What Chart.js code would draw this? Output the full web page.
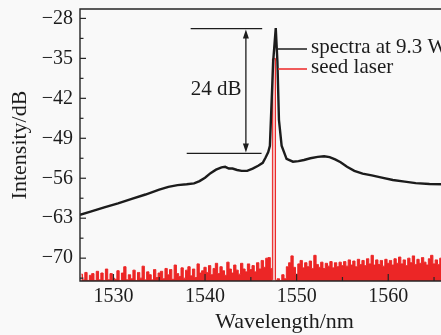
<!DOCTYPE html>
<html><head><meta charset="utf-8">
<script src="https://cdn.jsdelivr.net/npm/chart.js@4/dist/chart.umd.min.js"></script>
<style>
html,body{margin:0;padding:0;background:#f9f9f9;overflow:hidden}
#wrap{width:441px;height:335px;overflow:hidden;position:relative}
canvas{display:block}
</style></head><body>
<div id="wrap"><canvas id="c" width="500" height="335"></canvas></div>
<script>
// ---- data ----
const xTicks = [1530, 1540, 1550, 1560, 1570];
const xMinorTicks = [1535, 1545, 1555, 1565];
const yTicks = [-70, -63, -56, -49, -42, -35, -28];
const yMinorTicks = [-73.5, -66.5, -59.5, -52.5, -45.5, -38.5, -31.5];
const seriesLabels = ['spectra at 9.3 W', 'seed laser'];

const spectraWavelength = [1526.35,1527.5,1529.0,1530.5,1532.0,1533.5,1535.0,1536.0,1537.0,1538.0,1538.8,1539.4,1540.0,1540.6,1541.2,1541.8,1542.2,1542.6,1543.0,1543.5,1544.0,1544.6,1545.2,1545.8,1546.3,1546.6,1546.9,1547.08,1547.19,1547.44,1547.72,1547.9,1548.07,1548.36,1548.9,1549.6,1550.2,1550.8,1551.5,1552.3,1553.0,1553.6,1554.2,1554.8,1555.5,1556.3,1557.2,1558.2,1559.3,1560.5,1561.8,1563.0,1564.5,1566.0,1568.0,1571.0];
const spectraIntensity = [-62.4,-61.85,-61.1,-60.4,-59.6,-58.85,-58.0,-57.5,-57.2,-57.05,-56.9,-56.5,-55.9,-55.1,-54.5,-54.1,-54.0,-54.3,-54.3,-54.55,-54.7,-54.7,-54.3,-53.8,-53.3,-52.4,-51.4,-50.3,-45.8,-35.5,-29.7,-35.5,-45.8,-50.3,-52.6,-53.1,-53.0,-52.8,-52.5,-52.25,-52.15,-52.3,-52.7,-53.2,-54.0,-54.7,-55.2,-55.5,-55.9,-56.3,-56.6,-56.85,-57.0,-57.05,-57.15,-57.25];

const seedStart = 1526.5, seedStep = 0.25;
const seedIntensity = [
 -72.8,-73.8,-72.5,-73.9,-73.0,-72.7,-73.9,-72.3,-73.8,-72.6,-73.9,-71.9,-73.8,-72.7,-73.5,
 -73.7,-72.2,-73.9,-72.6,-71.5,-73.8,-72.9,-73.6,-72.1,-73.9,-72.5,-73.5,-71.4,-73.8,-72.4,-72.9,-73.8,-72.0,-73.4,-72.6,
 -72.3,-73.6,-71.8,-72.9,-72.0,-73.7,-71.2,-72.7,-73.2,-71.7,-73.5,-72.1,-71.5,-73.1,-71.9,-73.4,-71.0,-72.6,-72.2,-71.6,
 -72.5,-71.3,-72.9,-71.8,-70.9,-72.7,-71.5,-72.2,-73.0,-70.7,-71.9,-72.6,-71.2,-72.1,-72.8,-70.9,-71.9,-72.4,-71.0,-72.0,
 -71.3,-72.4,-70.8,-71.9,-70.4,-71.6,-70.0,-69.9,-71.8,
 -35.05,
 -73.9,-73.6,-73.9,-72.9,-73.6,-71.5,
 -70.8,-69.6,-71.6,-72.8,
 -71.0,-70.4,-71.7,-70.8,-71.5,-70.5,-71.8,-69.5,-71.1,-71.6,-70.7,-71.8,-70.9,-71.4,-70.6,-71.7,-70.8,-71.5,-70.7,-71.3,
 -70.6,-71.4,-70.3,-71.2,-70.5,-71.5,-70.2,-71.1,-70.4,-71.3,-70.1,-71.0,-69.5,-71.2,-70.3,-71.1,-70.4,-71.4,-70.2,-70.9,
 -70.4,-71.2,-70.1,-70.9,-69.8,-71.0,-70.3,-71.3,-70.0,-70.8,-69.6,-71.1,-70.2,-70.9,-69.9,-70.7,-71.2,-70.1,-69.5,-71.0,-70.3,-71.1,-70.0,-70.8,-69.7,-71.2,-70.2,-70.9,-69.9,-70.7,-71.1,-70.0,-69.4,-70.9,-70.3,-71.2,-70.1,-70.8,-69.8,-71.0,-70.2,-70.9,-70.0,-70.7
];
const seedPeakWavelength = [1547.34, 1547.37, 1547.68, 1547.71];
const seedPeakIntensity = [-73.8, -35.1, -35.0, -73.8];

// 24 dB bracket annotation (data units)
const bracketText = '24 dB';
const bracketTop = -29.78, bracketBottom = -51.65;
const bracketTopX = [1538.43, 1546.24];
const bracketBottomX = [1538.0, 1546.17];
const bracketArrowX = 1544.46;
const bracketTextPos = [1541.2, -40.4];

// ---- build ----
const FONT = '"Liberation Serif", "Times New Roman", serif';
const INK = '#1c1c1c';
const RED = 'rgb(236,38,38)';
const PALE_RED = 'rgba(236,38,38,0.3)';

const spectraPts = spectraWavelength.map((w, i) => ({x: w, y: spectraIntensity[i]}));
const seedPts = seedIntensity.map((v, i) => ({x: +(seedStart + i * seedStep).toFixed(3), y: v}))
  .concat(seedPeakWavelength.map((w, i) => ({x: w, y: seedPeakIntensity[i]})))
  .sort((a, b) => a.x - b.x);

Chart.defaults.font.family = FONT;
Chart.defaults.color = INK;

const overlay = {
  id: 'overlay',
  afterDatasetsDraw(chart) {
    const {ctx, chartArea: a, scales: {x, y}} = chart;
    ctx.save();
    ctx.strokeStyle = '#262626';
    ctx.lineWidth = 1.4;
    ctx.beginPath();
    ctx.rect(a.left, a.top, a.right - a.left, a.bottom - a.top);
    ctx.stroke();
    const seg = (x1, y1, x2, y2) => { ctx.beginPath(); ctx.moveTo(x1, y1); ctx.lineTo(x2, y2); ctx.stroke(); };
    ctx.lineWidth = 1.2;
    yTicks.forEach(v => { const p = y.getPixelForValue(v); seg(a.left, p, a.left + 6, p); });
    yMinorTicks.forEach(v => { const p = y.getPixelForValue(v); if (p < a.bottom - 2) seg(a.left, p, a.left + 3.5, p); });
    xTicks.forEach(v => { const p = x.getPixelForValue(v); seg(p, a.bottom, p, a.bottom - 7); });
    xMinorTicks.forEach(v => { const p = x.getPixelForValue(v); seg(p, a.bottom, p, a.bottom - 4); });

    // bracket annotation
    ctx.strokeStyle = INK; ctx.fillStyle = INK; ctx.lineWidth = 1.3;
    const yt = y.getPixelForValue(bracketTop), yb = y.getPixelForValue(bracketBottom);
    seg(x.getPixelForValue(bracketTopX[0]), yt, x.getPixelForValue(bracketTopX[1]), yt);
    seg(x.getPixelForValue(bracketBottomX[0]), yb, x.getPixelForValue(bracketBottomX[1]), yb);
    const ax = x.getPixelForValue(bracketArrowX);
    seg(ax, yt + 6, ax, yb - 6);
    ctx.beginPath(); ctx.moveTo(ax, yt + 1); ctx.lineTo(ax - 3, yt + 10); ctx.lineTo(ax + 3, yt + 10); ctx.closePath(); ctx.fill();
    ctx.beginPath(); ctx.moveTo(ax, yb - 1); ctx.lineTo(ax - 3, yb - 10); ctx.lineTo(ax + 3, yb - 10); ctx.closePath(); ctx.fill();
    ctx.font = '21px ' + FONT;
    ctx.textAlign = 'center'; ctx.textBaseline = 'middle';
    ctx.fillText(bracketText, x.getPixelForValue(bracketTextPos[0]), y.getPixelForValue(bracketTextPos[1]));

    // legend
    ctx.textAlign = 'left';
    const lx0 = 278, lx1 = 307, ly = [49, 69];
    chart.data.datasets.forEach((ds, i) => {
      ctx.strokeStyle = ds.borderColor; ctx.lineWidth = 1.5;
      seg(lx0, ly[i], lx1, ly[i]);
      ctx.fillStyle = INK;
      ctx.fillText(ds.label, lx1 + 4, ly[i] - 2);
    });
    ctx.restore();
  }
};

new Chart(document.getElementById('c'), {
  type: 'line',
  data: {
    datasets: [
      {label: seriesLabels[0], data: spectraPts, borderColor: INK, borderWidth: 2.4, pointRadius: 0, tension: 0, fill: false, order: 0},
      {label: seriesLabels[1], data: seedPts, borderColor: RED, backgroundColor: RED, borderWidth: 1, pointRadius: 0, tension: 0, stepped: 'middle', fill: 'start', order: 1,
       segment: {backgroundColor: c => (c.p0.parsed.y > -60 || c.p1.parsed.y > -60) && c.p0.parsed.y > -60 && c.p1.parsed.y > -60 ? PALE_RED : undefined}}
    ]
  },
  options: {
    responsive: false,
    animation: false,
    events: [],
    layout: {padding: {top: 9, right: 11, left: 0, bottom: 0}},
    plugins: {legend: {display: false}, tooltip: {enabled: false}},
    scales: {
      x: {
        type: 'linear', min: 1526.35, max: 1571,
        afterBuildTicks: s => { s.ticks = xTicks.map(v => ({value: v})); },
        afterFit: s => { s.height = 54; s.paddingLeft = 0; s.paddingRight = 0; },
        grid: {display: false, drawTicks: false},
        border: {display: false},
        ticks: {font: {size: 20, family: FONT}, color: INK, padding: 4, maxRotation: 0, autoSkip: false, callback: v => String(v)},
        title: {display: true, text: 'Wavelength/nm', color: INK, font: {size: 22, family: FONT}, padding: {top: 0, bottom: 0}}
      },
      y: {
        type: 'linear', min: -74, max: -26.35,
        afterBuildTicks: s => { s.ticks = yTicks.map(v => ({value: v})); },
        afterFit: s => { s.width = 80; s.paddingTop = 0; s.paddingBottom = 0; },
        grid: {display: false, drawTicks: false},
        border: {display: false},
        ticks: {font: {size: 20, family: FONT}, color: INK, padding: 7, callback: v => v < 0 ? '\u2212' + Math.abs(v) : String(v)},
        title: {display: true, text: 'Intensity/dB', color: INK, font: {size: 22, family: FONT}, padding: {top: 7, bottom: 0}}
      }
    }
  },
  plugins: [overlay]
});
</script>
</body></html>
